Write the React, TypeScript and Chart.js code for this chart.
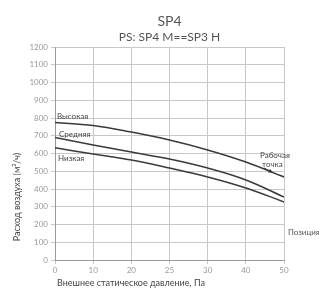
import React, { useEffect, useRef } from "react";
import { Chart, registerables } from "chart.js";

Chart.register(...registerables);

const pressureLabels = ["0", "10", "20", "25", "30", "40", "50"];
const highFlow = [775, 758, 721, 676, 620, 552, 468];
const midFlow = [690, 648, 608, 569, 518, 451, 355];
const lowFlow = [632, 597, 563, 518, 468, 406, 327];
const yTicks = [0, 100, 200, 300, 400, 500, 600, 700, 800, 900, 1000, 1100, 1200];

const titleText = "SP4";
const subtitleText = "PS: SP4 M==SP3 H";
const yTitle = "Расход воздуха (м³/ч)";
const xTitle = "Внешнее статическое давление, Па";
const seriesNames = ["Высокая", "Средняя", "Низкая"];
const workPoint = ["Рабочая", "точка"];
const sideNote = "Позиция";

const FONT = "Lato, 'Liberation Sans', sans-serif";

const overlay = {
  id: "overlay",
  afterDraw(chart: any) {
    const { ctx, chartArea } = chart;
    const cx = (chartArea.left + chartArea.right) / 2;
    ctx.save();
    ctx.fillStyle = "#555";
    ctx.textAlign = "center";
    ctx.textBaseline = "middle";
    ctx.font = `14px ${FONT}`;
    ctx.fillText(titleText, cx, 21);
    ctx.font = `12px ${FONT}`;
    ctx.fillText(subtitleText, cx, 37);

    // axis titles
    ctx.font = `9px ${FONT}`;
    ctx.fillStyle = "#444";
    ctx.textAlign = "left";
    ctx.fillText(xTitle, chartArea.left + 2, 283);
    ctx.save();
    ctx.translate(17, 197);
    ctx.rotate(-Math.PI / 2);
    ctx.textAlign = "center";
    ctx.fillText(yTitle, 0, 0);
    ctx.restore();

    // series labels
    const ys = chart.scales.y;
    ctx.font = `8px ${FONT}`;
    ctx.fillStyle = "#444";
    ctx.textAlign = "left";
    ctx.fillText(seriesNames[0], chartArea.left + 2, ys.getPixelForValue(highFlow[0]) - 6);
    ctx.fillText(seriesNames[1], chartArea.left + 4, ys.getPixelForValue(midFlow[0]) - 3);
    ctx.fillText(seriesNames[2], chartArea.left + 3, ys.getPixelForValue(lowFlow[0]) + 11);

    // work point
    ctx.font = `8px ${FONT}`;
    ctx.textAlign = "left";
    ctx.fillText(workPoint[0], chartArea.right - 24, 155);
    ctx.fillText(workPoint[1], chartArea.right - 22, 164);
    ctx.strokeStyle = "#333";
    ctx.lineWidth = 1;
    ctx.beginPath();
    ctx.moveTo(chartArea.right - 20, 168);
    ctx.lineTo(chartArea.right - 12, 172);
    ctx.stroke();
    ctx.fillStyle = "#333";
    ctx.beginPath();
    ctx.moveTo(chartArea.right - 11, 172.5);
    ctx.lineTo(chartArea.right - 16, 172.5);
    ctx.lineTo(chartArea.right - 14, 169);
    ctx.closePath();
    ctx.fill();

    ctx.fillStyle = "#555";
    ctx.font = `8px ${FONT}`;
    ctx.fillText(sideNote, chartArea.right + 4, 232);
    ctx.restore();
  },
};

export default function App() {
  const ref = useRef<HTMLCanvasElement>(null);
  useEffect(() => {
    document.body.style.margin = "0";
    const mk = (arr: number[]) => arr.map((v, i) => ({ x: i, y: v }));
    const ds = (data: number[]) => ({
      data: mk(data),
      borderColor: "#3a3a3a",
      borderWidth: 1.5,
      pointRadius: 0,
      tension: 0.4,
      fill: false,
    });
    const chart = new Chart(ref.current!, {
      type: "line",
      data: { datasets: [ds(highFlow), ds(midFlow), ds(lowFlow)] },
      options: {
        animation: false,
        responsive: false,
        maintainAspectRatio: false,
        layout: { padding: { top: 47, right: 35, left: 0, bottom: 0 } },
        plugins: { legend: { display: false }, tooltip: { enabled: false } },
        scales: {
          x: {
            type: "linear",
            min: 0,
            max: pressureLabels.length - 1,
            afterBuildTicks: (s: any) => {
              s.ticks = pressureLabels.map((_, i) => ({ value: i }));
            },
            afterFit: (s: any) => {
              s.height = 30;
            },
            ticks: {
              callback: (v: any) => pressureLabels[v] ?? "",
              color: "#999",
              font: { family: FONT, size: 8 },
              padding: 2,
              maxRotation: 0,
            },
            grid: { color: "#c8c8c8", tickLength: 4, lineWidth: 1 },
            border: { color: "#999" },
          },
          y: {
            min: 0,
            max: 1200,
            afterBuildTicks: (s: any) => {
              s.ticks = yTicks.map((v) => ({ value: v }));
            },
            afterFit: (s: any) => {
              s.width = 55;
            },
            ticks: {
              callback: (v: any) => String(v),
              color: "#999",
              font: { family: FONT, size: 8 },
              padding: 3,
            },
            grid: { color: "#c8c8c8", tickLength: 4, lineWidth: 1 },
            border: { color: "#999" },
          },
        },
      },
      plugins: [overlay],
    });
    return () => chart.destroy();
  }, []);
  return (
    <div style={{ position: "absolute", left: 0, top: 0, width: 319, height: 290 }}>
      <canvas ref={ref} width={319} height={290} style={{ width: 319, height: 290 }} />
    </div>
  );
}
